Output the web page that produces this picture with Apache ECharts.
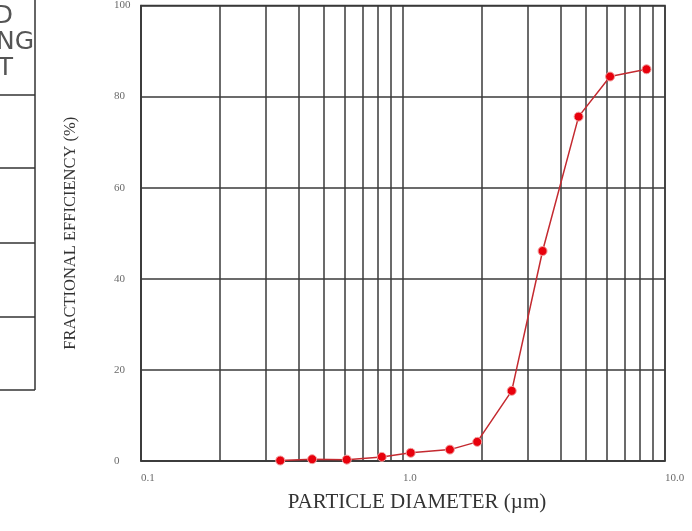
<!DOCTYPE html>
<html>
<head>
<meta charset="utf-8">
<script src="https://cdn.jsdelivr.net/npm/echarts@6/dist/echarts.min.js"></script>
<style>
html,body{margin:0;padding:0;background:#fff;}
#chart{width:692px;height:531px;}
</style>
</head>
<body>
<div id="chart"></div>
<script>
// Particle diameter (µm) and fractional efficiency (%)
const diameters = [0.34, 0.45, 0.61, 0.83, 1.07, 1.51, 1.92, 2.6, 3.41, 4.68, 6.17, 8.5];
const efficiencies = [0.1, 0.4, 0.3, 0.9, 1.8, 2.5, 4.2, 15.4, 46.1, 75.6, 84.4, 86.0];
const minorGridX = [0.2, 0.3, 0.4, 0.5, 0.6, 0.7, 0.8, 0.9, 2, 3, 4, 5, 6, 7, 8, 9];
const xTitle = 'PARTICLE DIAMETER (µm)';
const yTitle = 'FRACTIONAL EFFICIENCY (%)';
const tableHeader = ['D', 'NG', 'T'];

const gridColor = '#3a3a3a';
const chart = echarts.init(document.getElementById('chart'), null, {renderer: 'canvas'});

const tableLines = [95, 168, 243, 317, 390].map(y => ({
  type: 'line', shape: {x1: 0, y1: y, x2: 35, y2: y},
  style: {stroke: '#333', lineWidth: 1.5}
}));

chart.setOption({
  animation: false,
  backgroundColor: '#fff',
  grid: {left: 141, right: 27, top: 5, bottom: 70, show: true, borderColor: gridColor, borderWidth: 1.5},
  xAxis: {
    type: 'log', logBase: 10, min: 0.1, max: 10,
    name: xTitle, nameLocation: 'middle', nameGap: 31,
    nameTextStyle: {fontFamily: 'Liberation Serif', fontSize: 21, color: '#333', padding: [0, 0, 0, 28]},
    axisLine: {show: true, lineStyle: {color: gridColor, width: 1.5}},
    axisTick: {show: false},
    axisLabel: {
      fontFamily: 'Liberation Serif', fontSize: 11, color: '#6a6a6a', margin: 12, align: 'left',
      formatter: v => Number(v).toFixed(1)
    },
    splitLine: {show: true, lineStyle: {color: gridColor, width: 1.5}}
  },
  yAxis: {
    type: 'value', min: 0, max: 100, interval: 20,
    name: yTitle, nameLocation: 'middle', nameGap: 62,
    nameTextStyle: {fontFamily: 'Liberation Serif', fontSize: 16.5, color: '#333'},
    axisLine: {show: true, lineStyle: {color: gridColor, width: 1.5}},
    axisTick: {show: false},
    axisLabel: {fontFamily: 'Liberation Serif', fontSize: 11, color: '#6a6a6a', margin: 27, align: 'left'},
    splitLine: {show: true, lineStyle: {color: gridColor, width: 1.5}}
  },
  series: [{
    type: 'line',
    data: diameters.map((d, i) => [d, efficiencies[i]]),
    symbol: 'circle', symbolSize: 9,
    lineStyle: {color: '#c42a30', width: 1.5},
    itemStyle: {color: '#e8000c', borderColor: '#f2a0a0', borderWidth: 1},
    markLine: {
      silent: true, symbol: ['none', 'none'], label: {show: false},
      lineStyle: {color: gridColor, width: 1.5, type: 'solid'},
      data: minorGridX.map(v => ({xAxis: v}))
    },
    z: 5
  }],
  graphic: [
    {type: 'line', shape: {x1: 35, y1: 0, x2: 35, y2: 390}, style: {stroke: '#333', lineWidth: 1.5}},
    ...tableLines,
    {type: 'text', x: 13, y: 16, style: {text: tableHeader[0], font: '25px "DejaVu Sans"', fill: '#555', textAlign: 'right', textVerticalAlign: 'middle'}},
    {type: 'text', x: 34, y: 42, style: {text: tableHeader[1], font: '25px "DejaVu Sans"', fill: '#555', textAlign: 'right', textVerticalAlign: 'middle'}},
    {type: 'text', x: 13, y: 68, style: {text: tableHeader[2], font: '25px "DejaVu Sans"', fill: '#555', textAlign: 'right', textVerticalAlign: 'middle'}}
  ]
});
</script>
</body>
</html>
